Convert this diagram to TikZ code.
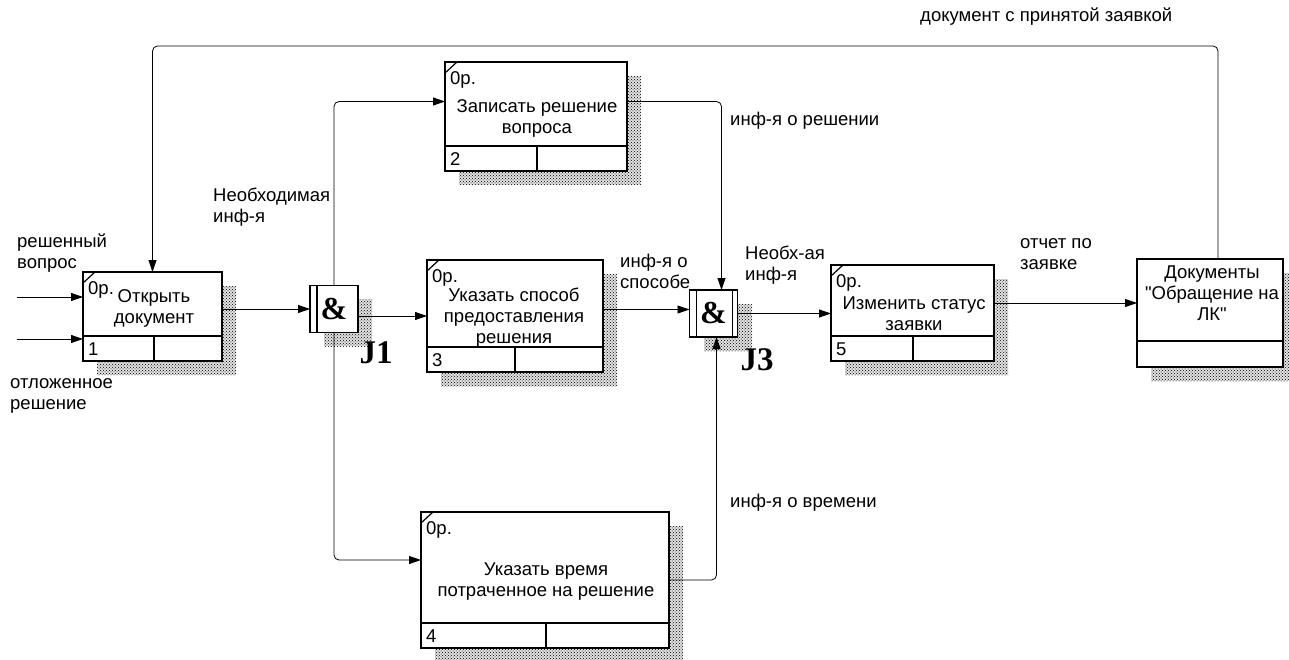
\documentclass[tikz,border=0pt]{standalone}
\usepackage{fontspec}
\setmainfont{Liberation Sans}
\newfontfamily\junctfont{Liberation Serif}
\usetikzlibrary{arrows.meta,patterns}

\begin{document}
\begin{tikzpicture}[x=1pt, y=-1pt, font=\fontsize{18.5}{21}\selectfont,
  frame/.style={draw, line width=1.6pt, fill=white, inner sep=0pt, outer sep=0pt},
  hatch/.style={pattern=crosshatch dots, pattern color=black},
  flow/.style={line width=0.8pt, rounded corners=5pt, -{Triangle[length=12pt,width=8pt]}},
  lbl/.style={align=left, anchor=west, inner sep=0pt},
  junct/.style={frame, minimum width=48pt, minimum height=47pt, font=\junctfont\bfseries\fontsize{32}{32}\selectfont},
  jname/.style={font=\junctfont\bfseries\fontsize{33}{33}\selectfont, inner sep=0pt}]
\useasboundingbox (0,0) rectangle (1289,660);
% activity boxes
\foreach \n/\bx/\by/\bw/\bh/\bd in {1/83/272/139/89/71, 2/445/62/182/109/92, 3/427/260/176/112/88, 4/421/512/248/136/125, 5/831/265/163/96/82}
{
  \fill[black!12] (\bx+14,\by+14) rectangle ++(\bw,\bh);
  \fill[hatch] (\bx+14,\by+14) rectangle ++(\bw,\bh);
  \node[frame, anchor=north west, minimum width=\bw pt, minimum height=\bh pt] (b\n) at (\bx,\by) {};
  \draw[line width=1.6pt] (\bx,\by+\bh-25) -- ++(\bw,0) (\bx+\bd,\by+\bh-25) -- ++(0,25);
  \draw[line width=1.2pt] (\bx,\by+11) -- (\bx+12,\by);
  \node[lbl] at (\bx+5,\by+18) {0р.};
  \node[lbl] at (\bx+5,\by+\bh-12) {\n};
}
\node[align=center] (t1) at (154,308) {Открыть\\документ};
\node[align=center] (t2) at (537,118) {Записать решение\\вопроса};
\node[align=center] (t3) at (514,318) {Указать способ\\предоставления\\решения};
\node[align=center] (t4) at (546,582) {Указать время\\потраченное на решение};
\node[align=center] (t5) at (914,314) {Изменить статус\\заявки};
% documents box
\fill[black!12] (1151,273) rectangle ++(146,108);
\fill[hatch] (1151,273) rectangle ++(146,108);
\node[frame, anchor=north west, minimum width=146pt, minimum height=108pt] (doc) at (1137,259) {};
\draw[line width=1.6pt] ([yshift=26pt]doc.south west) -- ([yshift=26pt]doc.south east);
\node[align=center] (tdoc) at (1212,293) {Документы\\\textquotedbl Обращение на\\ЛК\textquotedbl};
% junctions
\fill[black!12] (324,299) rectangle ++(48,47);
\fill[hatch] (324,299) rectangle ++(48,47);
\node[junct] (j1) at (334,309) {\&};
\draw[line width=1.6pt] ([xshift=7pt]j1.north west) -- ([xshift=7pt]j1.south west);
\node[jname] (j1name) at (376,353) {J1};
\fill[black!12] (704,304) rectangle ++(48,47);
\fill[hatch] (704,304) rectangle ++(48,47);
\node[junct] (j3) at (713.5,313.5) {\&};
\draw[line width=1.6pt] ([xshift=7pt]j3.north west) -- ([xshift=7pt]j3.south west)
  ([xshift=-5pt]j3.north east) -- ([xshift=-5pt]j3.south east);
\node[jname] (j3name) at (757,360) {J3};
% arrows
\coordinate (in1) at (17,297);
\coordinate (in2) at (17,339);
\coordinate (j3in) at ([yshift=4pt]j3.west);
\coordinate (fb) at (1218,46);
\draw[flow] (in1) -- (in1 -| b1.west);
\draw[flow] (in2) -- (in2 -| b1.west);
\draw[flow] (b1.east |- j1.west) -- (j1.west);
\draw[flow] (j1.east |- b3.west) -- (b3.west);
\draw[flow] (j1.north) |- ([yshift=15pt]b2.west);
\draw[flow] (j1.south) |- ([yshift=20pt]b4.west);
\draw[flow] ([yshift=15pt]b2.east) -| ([xshift=8pt]j3.north);
\draw[flow] (b3.east |- j3in) -- (j3in);
\draw[flow] (b4.east) -| ([xshift=3pt]j3.south);
\draw[flow] (j3.east) -- (j3.east -| b5.west);
\draw[flow] ([yshift=10pt]b5.east) -- ([yshift=10pt]b5.east -| doc.west);
\draw[flow] ([xshift=8pt]doc.north) -- (fb) -| (b1.north);
% labels
\node[lbl] (l1) at (17,253) {решенный\\вопрос};
\node[lbl] (l2) at (10,396) {отложенное\\решение};
\node[lbl] (l3) at (213,207) {Необходимая\\инф-я};
\node[lbl] (l4) at (620,271) {инф-я о\\способе};
\node[lbl] (l5) at (745,265) {Необх-ая\\инф-я};
\node[lbl] (l6) at (1020,254) {отчет по\\заявке};
\node[lbl] (l7) at (920,17) {документ с принятой заявкой};
\node[lbl] (l8) at (730,121) {инф-я о решении};
\node[lbl] (l9) at (730,503) {инф-я о времени};
\end{tikzpicture}
\end{document}
